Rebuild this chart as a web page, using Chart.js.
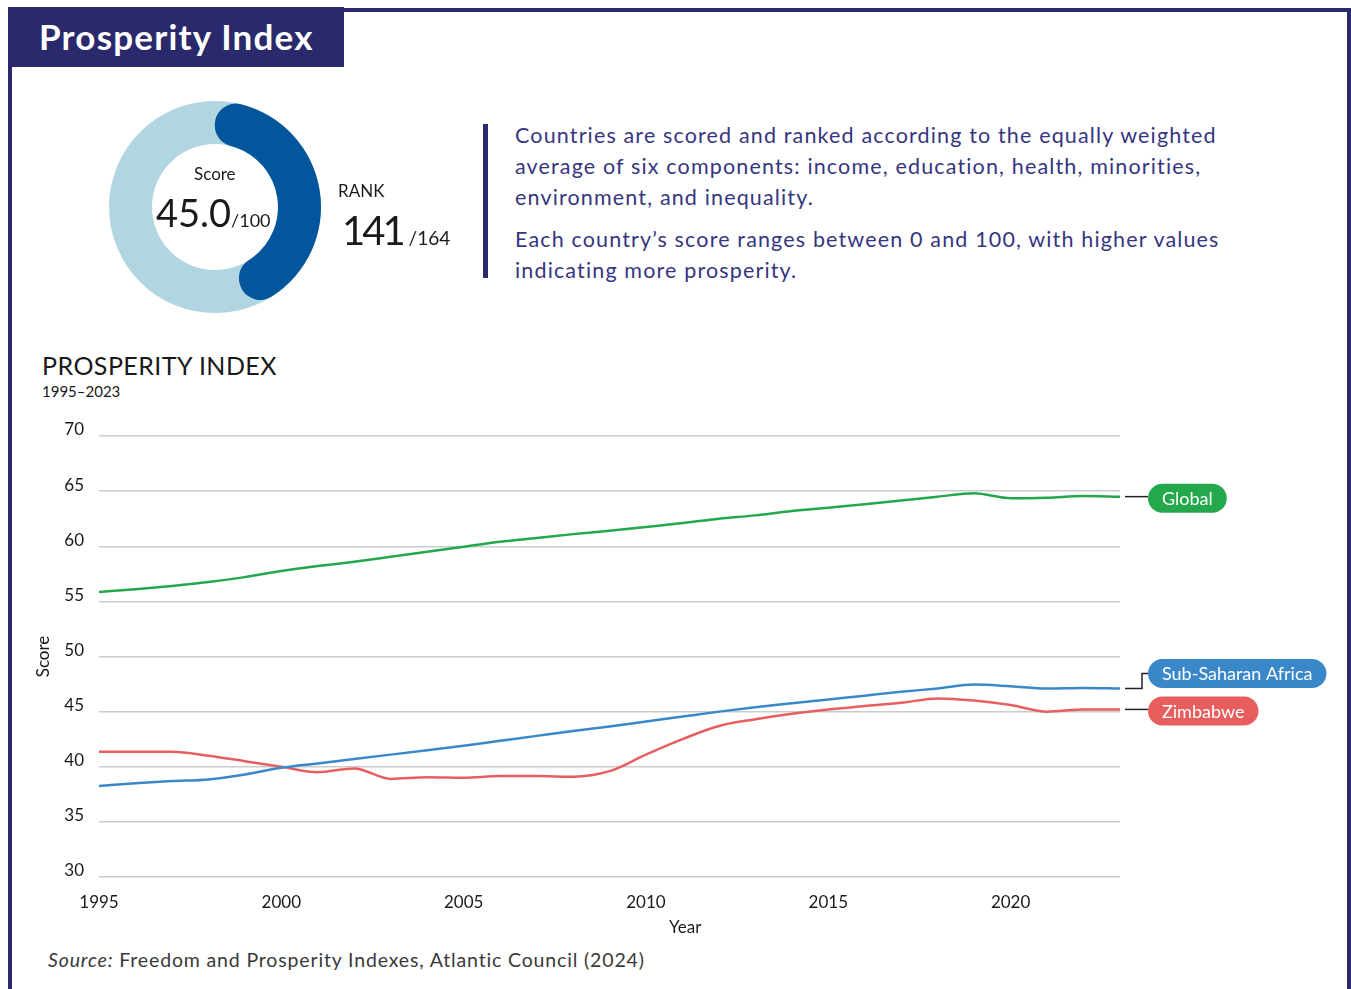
<!DOCTYPE html>
<html>
<head>
<meta charset="utf-8">
<script src="https://cdn.jsdelivr.net/npm/chart.js@4.4.1/dist/chart.umd.min.js"></script>
<style>
  html, body { margin:0; padding:0; background:#fff; }
  body { width:1351px; height:989px; overflow:hidden; position:relative; font-family: Lato, "Open Sans", sans-serif; color:#1a1a1a; }
  .frame { position:absolute; left:8px; top:8px; width:1343px; height:1000px; box-sizing:border-box; border-top:4px solid #29296b; border-left:4px solid #29296b; border-right:4px solid #29296b; }
  .titlebox { position:absolute; left:8px; top:7px; width:336px; height:60px; background:#29296b; }
  .titlebox span { position:absolute; left:31px; top:9px; color:#fff; font-weight:700; font-size:35px; line-height:40px; letter-spacing:1.2px; white-space:nowrap; }
  .abs { position:absolute; white-space:nowrap; }
  .vbar { position:absolute; left:483px; top:124px; width:5px; height:154px; background:#29296b; }
  .para { position:absolute; left:515px; color:#36357f; font-size:21.5px; line-height:31px; letter-spacing:1.15px; white-space:nowrap; }
</style>
</head>
<body>
<div class="frame"></div>
<div class="titlebox"><span>Prosperity Index</span></div>

<canvas id="ringBg" width="212" height="212" style="position:absolute;left:109px;top:101px;"></canvas>
<canvas id="ringFg" width="212" height="212" style="position:absolute;left:109px;top:101px;"></canvas>

<div class="abs" style="left:194px;top:164px;font-size:17px;line-height:20px;">Score</div>
<div class="abs" style="left:156px;top:190px;font-size:38px;line-height:44px;">45.0<span style="font-size:18px;">/100</span></div>
<div class="abs" style="left:338px;top:181px;font-size:17px;line-height:20px;">RANK</div>
<div class="abs" style="left:342px;top:206px;font-size:40px;line-height:48px;letter-spacing:-3px;">141<span style="font-size:19px;letter-spacing:0;margin-left:6px;">/164</span></div>

<div class="vbar"></div>
<div class="para" style="top:120px;">Countries are scored and ranked according to the equally weighted<br>average of six components: income, education, health, minorities,<br>environment, and inequality.</div>
<div class="para" style="top:224px;">Each country’s score ranges between 0 and 100, with higher values<br>indicating more prosperity.</div>

<div class="abs" style="left:42px;top:350px;font-size:25px;line-height:30px;letter-spacing:0.45px;color:#1a1a1a;">PROSPERITY INDEX</div>
<div class="abs" style="left:42px;top:382px;font-size:15px;line-height:18px;color:#1a1a1a;">1995–2023</div>

<canvas id="chart" width="1351" height="545" style="position:absolute;left:0;top:400px;"></canvas>

<div class="abs" style="left:669px;top:917px;font-size:17px;line-height:20px;color:#1a1a1a;">Year</div>
<div class="abs" style="left:48px;top:948px;font-size:19.5px;line-height:24px;letter-spacing:0.85px;color:#3a3a3a;"><i>Source:</i> Freedom and Prosperity Indexes, Atlantic Council (2024)</div>

<script>
// ---- data ----
const years = ['1995','1996','1997','1998','1999','2000','2001','2002','2003','2004','2005','2006','2007','2008','2009','2010','2011','2012','2013','2014','2015','2016','2017','2018','2019','2020','2021','2022','2023'];
const xTickLabels = ['1995','2000','2005','2010','2015','2020'];
const yTickValues = [30,35,40,45,50,55,60,65,70];
const seriesNames = ['Global','Sub-Saharan Africa','Zimbabwe'];
const globalScores = [55.85,56.1,56.4,56.75,57.2,57.75,58.2,58.6,59.05,59.5,59.95,60.4,60.75,61.1,61.4,61.75,62.1,62.5,62.8,63.2,63.5,63.8,64.15,64.5,64.8,64.35,64.4,64.55,64.5];
const ssaScores = [38.25,38.5,38.7,38.85,39.3,39.9,40.3,40.7,41.1,41.5,41.9,42.35,42.8,43.25,43.65,44.1,44.55,45.0,45.4,45.75,46.1,46.45,46.8,47.1,47.45,47.3,47.1,47.15,47.1];
const zimScores = [41.35,41.35,41.35,41.0,40.5,40.0,39.5,39.85,38.9,39.05,39.0,39.15,39.15,39.1,39.6,41.1,42.5,43.7,44.3,44.8,45.2,45.5,45.8,46.2,46.0,45.6,45.0,45.2,45.2];
const countryScore = [45.0];
const scoreMax = [100];

const FONT = 'Lato, "Open Sans", sans-serif';
const colors = ['#23a94b', '#3a88c9', '#e85e5f'];

// ---- donut ----
new Chart(document.getElementById('ringBg'), {
  type: 'doughnut',
  data: { labels: ['all'], datasets: [{ data: scoreMax, backgroundColor: ['#b2d6e1'], borderWidth: 0 }] },
  options: { responsive: false, animation: false, events: [], cutout: 63,
    plugins: { legend: { display: false }, tooltip: { enabled: false } } }
});
new Chart(document.getElementById('ringFg'), {
  type: 'doughnut',
  data: { labels: ['score','rest'], datasets: [{ data: [countryScore[0], scoreMax[0] - countryScore[0]], backgroundColor: ['#03569b', 'rgba(0,0,0,0)'], borderWidth: 0, borderRadius: [21, 0] }] },
  options: { responsive: false, animation: false, events: [], cutout: 63,
    plugins: { legend: { display: false }, tooltip: { enabled: false } } }
});

// ---- end labels plugin ----
const endLabels = {
  id: 'endLabels',
  afterDatasetsDraw(chart) {
    const ctx = chart.ctx;
    const items = chart.data.datasets.map((ds, i) => {
      const meta = chart.getDatasetMeta(i);
      const pt = meta.data[meta.data.length - 1];
      return { name: ds.label, color: ds.borderColor, x: pt.x, y: pt.y, py: pt.y + 1.5 };
    });
    const sorted = items.slice().sort((a, b) => b.y - a.y);
    const gap = 37.5;
    for (let i = 1; i < sorted.length; i++) {
      if (sorted[i - 1].py - sorted[i].py < gap) sorted[i].py = sorted[i - 1].py - gap;
    }
    ctx.save();
    ctx.font = '18px ' + FONT;
    items.forEach(it => {
      const x0 = it.x + 5, pillX = it.x + 28, h = 29;
      ctx.strokeStyle = '#222';
      ctx.lineWidth = 1.5;
      ctx.beginPath();
      if (Math.abs(it.py - it.y) > 3) {
        ctx.moveTo(x0, it.y); ctx.lineTo(pillX - 6, it.y); ctx.lineTo(pillX - 6, it.py); ctx.lineTo(pillX, it.py);
      } else {
        ctx.moveTo(x0, it.y); ctx.lineTo(pillX, it.y);
      }
      ctx.stroke();
      const tw = ctx.measureText(it.name).width;
      const w = tw + 28;
      ctx.fillStyle = it.color;
      ctx.beginPath();
      ctx.roundRect(pillX, it.py - h / 2, w, h, h / 2);
      ctx.fill();
      ctx.fillStyle = '#fff';
      ctx.textAlign = 'left';
      ctx.textBaseline = 'middle';
      ctx.fillText(it.name, pillX + 14, it.py + 1);
    });
    ctx.restore();
  }
};

const mk = (label, data, color) => ({ label, data, borderColor: color, backgroundColor: color, borderWidth: 2.5, pointRadius: 0, cubicInterpolationMode: 'monotone', fill: false });

new Chart(document.getElementById('chart'), {
  type: 'line',
  data: { labels: years, datasets: [mk(seriesNames[0], globalScores, colors[0]), mk(seriesNames[1], ssaScores, colors[1]), mk(seriesNames[2], zimScores, colors[2])] },
  options: {
    responsive: false, animation: false, events: [],
    layout: { padding: { left: 33, right: 231, top: 36, bottom: 28 } },
    plugins: { legend: { display: false }, tooltip: { enabled: false } },
    scales: {
      x: {
        type: 'category', offset: false,
        grid: { display: false, drawTicks: false },
        border: { display: false },
        afterFit: s => { s.height = 40; },
        ticks: { autoSkip: false, maxRotation: 0, padding: 15, color: '#1a1a1a', font: { family: FONT, size: 17 },
          callback: function (v, i) { const l = years[i]; return xTickLabels.includes(l) ? l : null; } }
      },
      y: {
        min: yTickValues[0], max: yTickValues[yTickValues.length - 1],
        afterBuildTicks: s => { s.ticks = yTickValues.map(v => ({ value: v })); },
        afterFit: s => { s.width = 66; },
        grid: { color: '#cbcbcb', lineWidth: 1.5, drawTicks: false },
        border: { display: false },
        ticks: { padding: 15, labelOffset: -6, color: '#1a1a1a', font: { family: FONT, size: 17 } },
        title: { display: true, text: 'Score', color: '#1a1a1a', font: { family: FONT, size: 17 }, padding: { top: 0, bottom: 0, y: 0 } }
      }
    }
  },
  plugins: [endLabels]
});
</script>
</body>
</html>
